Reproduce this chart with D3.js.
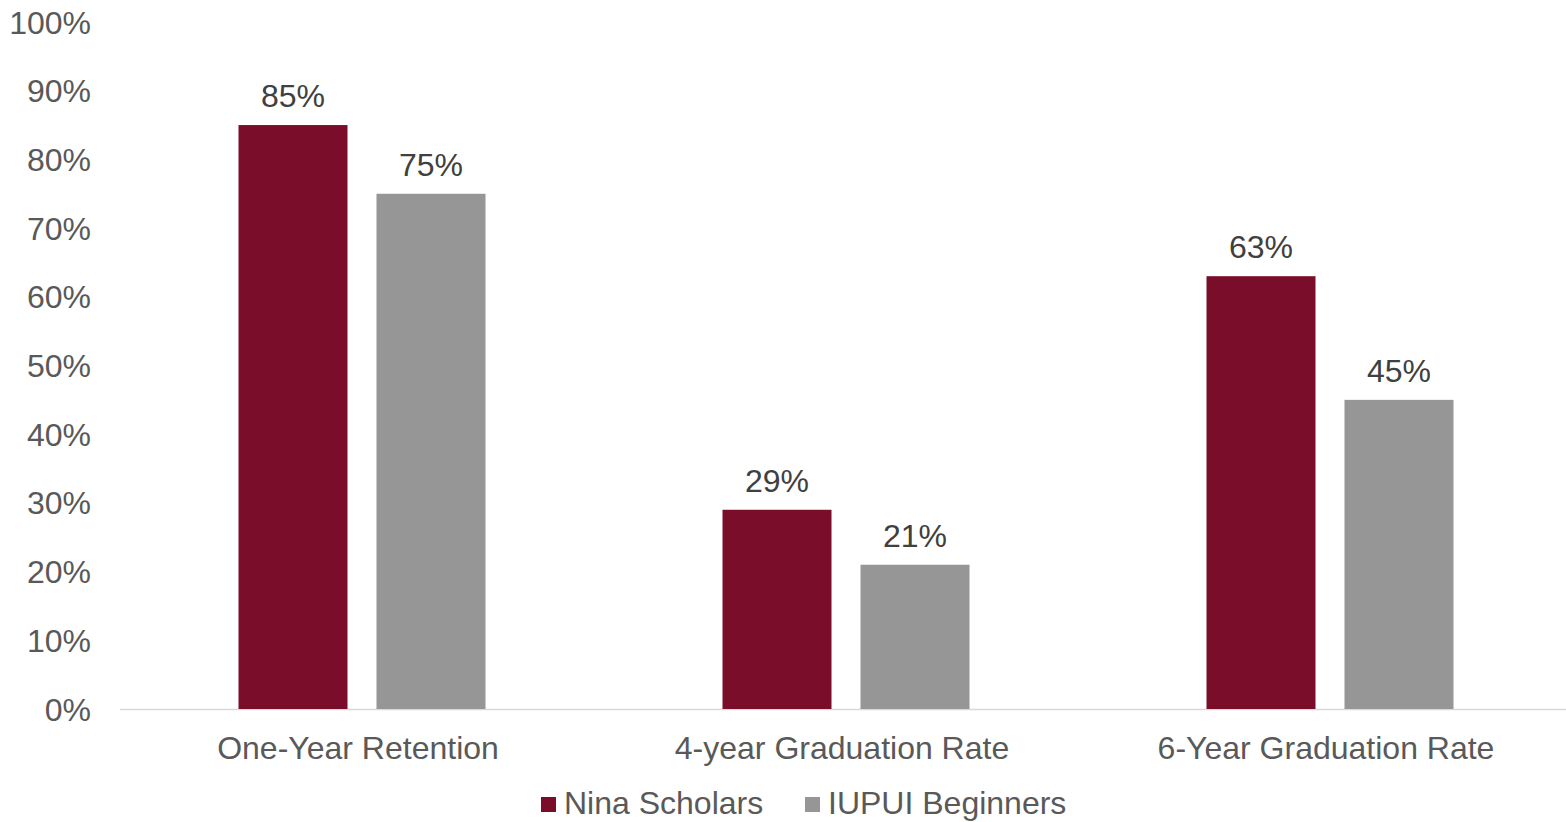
<!DOCTYPE html>
<html>
<head>
<meta charset="utf-8">
<script src="https://cdn.jsdelivr.net/npm/d3@7"></script>
<style>
  html, body { margin: 0; padding: 0; background: #fff; }
  svg { display: block; font-family: "Liberation Sans", Arial, sans-serif; }
</style>
</head>
<body>
<svg id="chart" width="1566" height="822"></svg>
<script>
// Retention and graduation outcomes, Nina Scholars vs. IUPUI Beginners
const categories = ["One-Year Retention", "4-year Graduation Rate", "6-Year Graduation Rate"];
const seriesNames = ["Nina Scholars", "IUPUI Beginners"];
const ninaScholars = [85, 29, 63];
const iupuiBeginners = [75, 21, 45];
const yTicks = [0, 10, 20, 30, 40, 50, 60, 70, 80, 90, 100];
const colors = ["#7A0E2A", "#969696"];

const series = [ninaScholars, iupuiBeginners];
const svg = d3.select("#chart");
const textColor = "#595959";
const fs = 32;

const x0 = d3.scaleBand().domain(categories).range([120, 1572]).paddingInner(0).paddingOuter(0);
const y = d3.scaleLinear().domain([0, 100]).range([709, 22]);

// inner positions of the two bars within a category
const barW = 109, gap = 29;
const groupW = barW * 2 + gap;
const offset = i => (x0.bandwidth() - groupW) / 2 + i * (barW + gap);

// y tick labels
svg.append("g").selectAll("text").data(yTicks).join("text")
  .attr("x", 91).attr("y", d => y(d)).attr("dy", "0.36em")
  .attr("text-anchor", "end").attr("font-size", fs).attr("fill", textColor)
  .text(d => d + "%");

// baseline
svg.append("line").attr("x1", 120).attr("x2", 1566)
  .attr("y1", y(0) + 0.5).attr("y2", y(0) + 0.5)
  .attr("stroke", "#d9d9d9").attr("stroke-width", 1.5);

// bars and value labels
series.forEach((vals, si) => {
  const g = svg.append("g");
  g.selectAll("rect").data(categories).join("rect")
    .attr("x", c => x0(c) + offset(si))
    .attr("y", (c, i) => y(vals[i]))
    .attr("width", barW)
    .attr("height", (c, i) => y(0) - y(vals[i]))
    .attr("fill", colors[si]);
  g.selectAll("text").data(categories).join("text")
    .attr("x", c => x0(c) + offset(si) + barW / 2)
    .attr("y", (c, i) => y(vals[i]) - 18)
    .attr("text-anchor", "middle").attr("font-size", fs).attr("fill", "#404040")
    .text((c, i) => vals[i] + "%");
});

// category labels
svg.append("g").selectAll("text").data(categories).join("text")
  .attr("x", c => x0(c) + x0.bandwidth() / 2 - 4)
  .attr("y", 759)
  .attr("text-anchor", "middle").attr("font-size", fs).attr("fill", textColor)
  .text(c => c);

// legend
const legendX = [541, 805];
const legend = svg.append("g");
seriesNames.forEach((name, i) => {
  legend.append("rect").attr("x", legendX[i]).attr("y", 797)
    .attr("width", 15).attr("height", 15).attr("fill", colors[i]);
  legend.append("text").attr("x", legendX[i] + 23).attr("y", 814)
    .attr("font-size", fs).attr("fill", textColor).text(name);
});
</script>
</body>
</html>
